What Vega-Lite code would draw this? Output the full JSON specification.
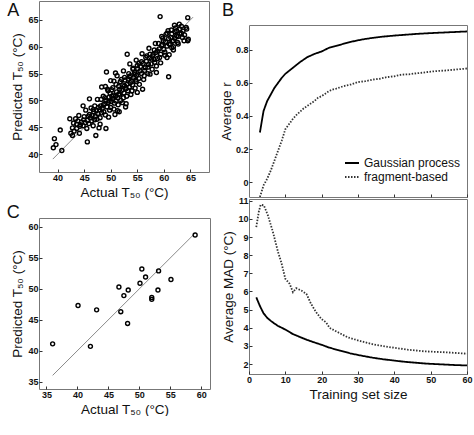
{
  "$schema": "https://vega.github.io/schema/vega-lite/v6.json",
  "padding": {"left": 6, "top": 0, "right": 0, "bottom": 0},
  "background": "white",
  "config": {
    "font": "Liberation Sans",
    "view": {"stroke": "#777", "strokeWidth": 1},
    "axis": {"grid": false, "domain": false, "tickSize": -3, "tickColor": "#333", "labelPadding": 4, "labelFontSize": 9, "labelFontWeight": "bold", "labelColor": "#111", "labelOverlap": false, "labelBound": false, "labelFlush": false, "titleFontSize": 13.5, "titleFontWeight": "normal", "titleColor": "#111", "titlePadding": 3}
  },
  "datasets": {
    "mcurves": [
      {"n": 2, "v": 5.68, "method": "Gaussian process"}, {"n": 3, "v": 5.2, "method": "Gaussian process"}, {"n": 4, "v": 4.8, "method": "Gaussian process"}, {"n": 5, "v": 4.55, "method": "Gaussian process"}, {"n": 6, "v": 4.38, "method": "Gaussian process"}, {"n": 7, "v": 4.23, "method": "Gaussian process"}, {"n": 8, "v": 4.1, "method": "Gaussian process"}, {"n": 9, "v": 4.0, "method": "Gaussian process"}, {"n": 10, "v": 3.9, "method": "Gaussian process"}, {"n": 12, "v": 3.66, "method": "Gaussian process"}, {"n": 14, "v": 3.49, "method": "Gaussian process"}, {"n": 16, "v": 3.33, "method": "Gaussian process"}, {"n": 18, "v": 3.19, "method": "Gaussian process"}, {"n": 20, "v": 3.06, "method": "Gaussian process"}, {"n": 22, "v": 2.91, "method": "Gaussian process"}, {"n": 25, "v": 2.74, "method": "Gaussian process"}, {"n": 28, "v": 2.58, "method": "Gaussian process"}, {"n": 31, "v": 2.46, "method": "Gaussian process"}, {"n": 34, "v": 2.35, "method": "Gaussian process"}, {"n": 37, "v": 2.26, "method": "Gaussian process"}, {"n": 40, "v": 2.19, "method": "Gaussian process"}, {"n": 43, "v": 2.12, "method": "Gaussian process"}, {"n": 46, "v": 2.07, "method": "Gaussian process"}, {"n": 49, "v": 2.02, "method": "Gaussian process"}, {"n": 52, "v": 1.99, "method": "Gaussian process"}, {"n": 56, "v": 1.95, "method": "Gaussian process"}, {"n": 60, "v": 1.92, "method": "Gaussian process"},
      {"n": 2, "v": 9.55, "method": "fragment-based"}, {"n": 2.7, "v": 10.4, "method": "fragment-based"}, {"n": 3.2, "v": 10.78, "method": "fragment-based"}, {"n": 4.1, "v": 10.75, "method": "fragment-based"}, {"n": 5.2, "v": 10.2, "method": "fragment-based"}, {"n": 6.6, "v": 9.27, "method": "fragment-based"}, {"n": 8, "v": 8.17, "method": "fragment-based"}, {"n": 8.9, "v": 7.6, "method": "fragment-based"}, {"n": 10, "v": 6.7, "method": "fragment-based"}, {"n": 11.2, "v": 6.42, "method": "fragment-based"}, {"n": 12.1, "v": 5.96, "method": "fragment-based"}, {"n": 13, "v": 6.18, "method": "fragment-based"}, {"n": 14.4, "v": 6.05, "method": "fragment-based"}, {"n": 15.8, "v": 5.87, "method": "fragment-based"}, {"n": 17.1, "v": 5.31, "method": "fragment-based"}, {"n": 18.5, "v": 4.85, "method": "fragment-based"}, {"n": 19.9, "v": 4.49, "method": "fragment-based"}, {"n": 21.2, "v": 4.3, "method": "fragment-based"}, {"n": 22.2, "v": 3.99, "method": "fragment-based"}, {"n": 24.5, "v": 3.75, "method": "fragment-based"}, {"n": 27.2, "v": 3.47, "method": "fragment-based"}, {"n": 30.9, "v": 3.25, "method": "fragment-based"}, {"n": 34.5, "v": 3.07, "method": "fragment-based"}, {"n": 39.1, "v": 2.92, "method": "fragment-based"}, {"n": 43.7, "v": 2.79, "method": "fragment-based"}, {"n": 48.3, "v": 2.7, "method": "fragment-based"}, {"n": 54.7, "v": 2.64, "method": "fragment-based"}, {"n": 60, "v": 2.57, "method": "fragment-based"}
    ],
    "rcurves": [
      {"n": 3, "v": 0.30, "method": "Gaussian process"}, {"n": 4, "v": 0.43, "method": "Gaussian process"}, {"n": 5, "v": 0.49, "method": "Gaussian process"}, {"n": 6, "v": 0.53, "method": "Gaussian process"}, {"n": 7, "v": 0.57, "method": "Gaussian process"}, {"n": 8, "v": 0.60, "method": "Gaussian process"}, {"n": 9, "v": 0.63, "method": "Gaussian process"}, {"n": 10, "v": 0.655, "method": "Gaussian process"}, {"n": 12, "v": 0.69, "method": "Gaussian process"}, {"n": 14, "v": 0.725, "method": "Gaussian process"}, {"n": 16, "v": 0.755, "method": "Gaussian process"}, {"n": 18, "v": 0.775, "method": "Gaussian process"}, {"n": 20, "v": 0.79, "method": "Gaussian process"}, {"n": 22, "v": 0.812, "method": "Gaussian process"}, {"n": 25, "v": 0.83, "method": "Gaussian process"}, {"n": 28, "v": 0.848, "method": "Gaussian process"}, {"n": 31, "v": 0.862, "method": "Gaussian process"}, {"n": 34, "v": 0.872, "method": "Gaussian process"}, {"n": 37, "v": 0.88, "method": "Gaussian process"}, {"n": 40, "v": 0.886, "method": "Gaussian process"}, {"n": 43, "v": 0.891, "method": "Gaussian process"}, {"n": 46, "v": 0.896, "method": "Gaussian process"}, {"n": 50, "v": 0.901, "method": "Gaussian process"}, {"n": 54, "v": 0.905, "method": "Gaussian process"}, {"n": 57, "v": 0.908, "method": "Gaussian process"}, {"n": 60, "v": 0.911, "method": "Gaussian process"},
      {"n": 3, "v": -0.09, "method": "fragment-based"}, {"n": 4, "v": -0.02, "method": "fragment-based"}, {"n": 5, "v": 0.02, "method": "fragment-based"}, {"n": 6, "v": 0.07, "method": "fragment-based"}, {"n": 7, "v": 0.13, "method": "fragment-based"}, {"n": 8, "v": 0.19, "method": "fragment-based"}, {"n": 9, "v": 0.25, "method": "fragment-based"}, {"n": 10, "v": 0.32, "method": "fragment-based"}, {"n": 11, "v": 0.35, "method": "fragment-based"}, {"n": 12, "v": 0.38, "method": "fragment-based"}, {"n": 13, "v": 0.405, "method": "fragment-based"}, {"n": 14, "v": 0.425, "method": "fragment-based"}, {"n": 15, "v": 0.445, "method": "fragment-based"}, {"n": 16, "v": 0.46, "method": "fragment-based"}, {"n": 17, "v": 0.475, "method": "fragment-based"}, {"n": 18, "v": 0.49, "method": "fragment-based"}, {"n": 19, "v": 0.51, "method": "fragment-based"}, {"n": 20, "v": 0.52, "method": "fragment-based"}, {"n": 21, "v": 0.535, "method": "fragment-based"}, {"n": 22, "v": 0.55, "method": "fragment-based"}, {"n": 23, "v": 0.56, "method": "fragment-based"}, {"n": 24, "v": 0.565, "method": "fragment-based"}, {"n": 26, "v": 0.58, "method": "fragment-based"}, {"n": 28, "v": 0.59, "method": "fragment-based"}, {"n": 30, "v": 0.605, "method": "fragment-based"}, {"n": 32, "v": 0.61, "method": "fragment-based"}, {"n": 34, "v": 0.62, "method": "fragment-based"}, {"n": 36, "v": 0.625, "method": "fragment-based"}, {"n": 38, "v": 0.635, "method": "fragment-based"}, {"n": 40, "v": 0.64, "method": "fragment-based"}, {"n": 42, "v": 0.65, "method": "fragment-based"}, {"n": 44, "v": 0.652, "method": "fragment-based"}, {"n": 46, "v": 0.658, "method": "fragment-based"}, {"n": 48, "v": 0.662, "method": "fragment-based"}, {"n": 50, "v": 0.668, "method": "fragment-based"}, {"n": 52, "v": 0.672, "method": "fragment-based"}, {"n": 54, "v": 0.675, "method": "fragment-based"}, {"n": 56, "v": 0.679, "method": "fragment-based"}, {"n": 58, "v": 0.683, "method": "fragment-based"}, {"n": 60, "v": 0.687, "method": "fragment-based"}
    ],
    "scatterA": [
      {"t":39.4,"p":42.9},{"t":39.7,"p":41.8},{"t":39.2,"p":41.2},{"t":40.8,"p":40.7},{"t":40.5,"p":44.5},{"t":42.8,"p":43.5},{"t":42.5,"p":43.9},{"t":43.1,"p":44.3},{"t":42.3,"p":46.6},{"t":43.4,"p":46.6},{"t":44.1,"p":43.9},{"t":43.6,"p":45.6},{"t":44.3,"p":45.5},{"t":44.8,"p":45.3},{"t":45.5,"p":44.8},{"t":45.6,"p":42.3},{"t":46.0,"p":47.4},{"t":44.8,"p":49.0},{"t":45.3,"p":48.2},{"t":46.0,"p":50.3},{"t":46.4,"p":46.2},{"t":46.7,"p":45.3},{"t":47.2,"p":43.5},{"t":47.0,"p":46.4},{"t":47.3,"p":48.1},{"t":47.7,"p":48.7},{"t":46.7,"p":48.3},{"t":48.0,"p":46.8},{"t":48.3,"p":47.7},{"t":48.6,"p":49.2},{"t":48.9,"p":50.5},{"t":49.1,"p":44.8},{"t":49.2,"p":55.3},{"t":49.5,"p":51.8},{"t":49.7,"p":49.9},{"t":50.0,"p":48.7},{"t":50.2,"p":50.8},{"t":50.4,"p":52.4},{"t":50.6,"p":53.6},{"t":50.9,"p":55.1},{"t":51.0,"p":49.9},{"t":51.3,"p":48.1},{"t":51.5,"p":51.2},{"t":51.7,"p":52.1},{"t":52.0,"p":53.9},{"t":52.4,"p":50.5},{"t":52.6,"p":52.7},{"t":52.9,"p":49.4},{"t":53.1,"p":58.6},{"t":53.2,"p":51.8},{"t":53.5,"p":54.4},{"t":53.7,"p":53.3},{"t":54.0,"p":51.8},{"t":54.2,"p":55.8},{"t":54.6,"p":54.9},{"t":54.8,"p":53.5},{"t":55.0,"p":51.5},{"t":55.3,"p":56.9},{"t":55.5,"p":55.5},{"t":56.0,"p":52.1},{"t":56.3,"p":54.6},{"t":56.5,"p":56.1},{"t":56.8,"p":58.3},{"t":57.1,"p":56.7},{"t":57.4,"p":54.9},{"t":57.7,"p":57.7},{"t":58.0,"p":58.6},{"t":58.3,"p":57.1},{"t":58.6,"p":55.2},{"t":58.8,"p":59.2},{"t":59.2,"p":58.0},{"t":59.3,"p":65.6},{"t":59.6,"p":60.2},{"t":59.9,"p":61.1},{"t":60.2,"p":59.0},{"t":60.4,"p":62.3},{"t":60.6,"p":58.0},{"t":60.9,"p":54.4},{"t":61.0,"p":60.5},{"t":61.3,"p":61.7},{"t":61.5,"p":59.8},{"t":61.8,"p":61.1},{"t":62.1,"p":62.8},{"t":62.4,"p":62.0},{"t":62.7,"p":60.5},{"t":63.0,"p":63.3},{"t":63.3,"p":62.5},{"t":63.5,"p":61.7},{"t":63.8,"p":61.1},{"t":64.5,"p":61.1},{"t":64.5,"p":65.4},{"t":64.3,"p":63.3},
      {"t":43.0,"p":45.8},{"t":43.8,"p":46.2},{"t":44.5,"p":46.0},{"t":44.9,"p":46.4},{"t":45.2,"p":45.9},{"t":45.6,"p":46.3},{"t":45.9,"p":45.7},{"t":46.2,"p":46.8},{"t":46.5,"p":47.2},{"t":46.8,"p":47.9},{"t":47.1,"p":47.0},{"t":47.4,"p":46.5},{"t":47.6,"p":47.6},{"t":47.9,"p":48.3},{"t":48.1,"p":49.0},{"t":48.4,"p":48.5},{"t":48.7,"p":47.9},{"t":48.9,"p":49.4},{"t":49.1,"p":50.0},{"t":49.3,"p":48.8},{"t":49.5,"p":49.6},{"t":49.7,"p":50.6},{"t":49.9,"p":51.3},{"t":50.1,"p":49.8},{"t":50.3,"p":50.3},{"t":50.5,"p":51.0},{"t":50.7,"p":49.5},{"t":50.9,"p":50.8},{"t":51.1,"p":51.6},{"t":51.3,"p":50.5},{"t":51.5,"p":52.6},{"t":51.7,"p":51.0},{"t":51.9,"p":50.0},{"t":52.1,"p":51.9},{"t":52.3,"p":52.9},{"t":52.5,"p":51.4},{"t":52.7,"p":53.8},{"t":52.9,"p":52.2},{"t":53.1,"p":53.0},{"t":53.3,"p":54.0},{"t":53.5,"p":52.5},{"t":53.7,"p":54.6},{"t":53.9,"p":53.6},{"t":54.1,"p":52.9},{"t":54.3,"p":54.2},{"t":54.5,"p":55.2},{"t":54.7,"p":53.8},{"t":54.9,"p":54.7},{"t":55.1,"p":55.9},{"t":55.3,"p":54.1},{"t":55.6,"p":56.3},{"t":55.8,"p":55.0},{"t":56.1,"p":56.9},{"t":56.4,"p":55.6},{"t":56.7,"p":57.3},{"t":57.0,"p":56.2},{"t":57.3,"p":57.9},{"t":57.6,"p":56.8},{"t":57.9,"p":58.3},{"t":58.2,"p":57.6},{"t":58.5,"p":58.9},{"t":58.8,"p":57.8},{"t":59.1,"p":59.6},{"t":59.4,"p":58.6},{"t":59.7,"p":60.4},{"t":60.0,"p":59.5},{"t":60.3,"p":60.9},{"t":60.6,"p":60.1},{"t":60.9,"p":61.5},{"t":61.2,"p":60.4},{"t":61.5,"p":62.4},{"t":61.8,"p":60.0},{"t":62.1,"p":61.6},{"t":62.4,"p":63.0},{"t":62.7,"p":61.9},{"t":63.0,"p":62.4},{"t":63.3,"p":63.8},{"t":63.6,"p":62.9},{"t":63.9,"p":62.2},{"t":64.2,"p":63.6},{"t":64.6,"p":61.4},
      {"t":48.2,"p":50.2},{"t":48.6,"p":50.8},{"t":49.0,"p":47.3},{"t":49.4,"p":52.1},{"t":49.8,"p":48.2},{"t":50.2,"p":52.0},{"t":50.6,"p":48.4},{"t":51.0,"p":53.0},{"t":51.4,"p":49.2},{"t":51.8,"p":53.5},{"t":52.2,"p":49.6},{"t":52.6,"p":54.3},{"t":53.0,"p":50.8},{"t":53.4,"p":55.0},{"t":53.8,"p":51.1},{"t":54.2,"p":56.0},{"t":54.6,"p":52.3},{"t":55.0,"p":56.5},{"t":55.4,"p":53.0},{"t":55.8,"p":57.2},{"t":56.2,"p":53.9},{"t":56.6,"p":58.0},{"t":57.0,"p":55.0},{"t":57.4,"p":58.6},{"t":57.8,"p":55.8},{"t":58.2,"p":59.4},{"t":58.6,"p":56.4},{"t":59.0,"p":60.6},{"t":59.4,"p":57.0},{"t":59.8,"p":61.6},{"t":60.2,"p":58.4},{"t":60.6,"p":62.5},{"t":61.0,"p":58.5},{"t":61.4,"p":63.1},{"t":61.8,"p":59.4},{"t":62.2,"p":63.5},{"t":62.6,"p":60.8},
      {"t":47.5,"p":50.2},{"t":47.0,"p":49.0},{"t":46.3,"p":48.6},{"t":45.8,"p":47.1},{"t":45.0,"p":47.0},{"t":44.2,"p":45.2},{"t":43.6,"p":44.8},{"t":42.8,"p":44.9},{"t":44.0,"p":47.2},{"t":48.0,"p":45.6},{"t":47.8,"p":44.9},{"t":49.6,"p":46.9},{"t":50.8,"p":47.4},{"t":51.6,"p":47.9},{"t":52.8,"p":48.8},{"t":50.0,"p":53.7},{"t":49.0,"p":52.6},{"t":48.3,"p":52.5},{"t":51.2,"p":54.6},{"t":52.4,"p":55.5},{"t":53.6,"p":56.8},{"t":54.8,"p":57.5},{"t":55.9,"p":58.7},{"t":57.2,"p":59.7},{"t":58.4,"p":60.6},{"t":59.6,"p":61.9},{"t":60.8,"p":63.0},{"t":62.0,"p":64.0},{"t":62.9,"p":64.2},{"t":61.6,"p":61.0}
    ],
    "scatterC": [
      {"t":36.0,"p":41.1},{"t":40.1,"p":47.3},{"t":43.1,"p":46.6},{"t":42.1,"p":40.7},{"t":46.7,"p":50.3},{"t":47.0,"p":46.3},{"t":47.5,"p":48.9},{"t":48.1,"p":44.4},{"t":48.2,"p":49.8},{"t":50.1,"p":50.9},{"t":50.4,"p":53.2},{"t":51.0,"p":51.9},{"t":52.0,"p":48.6},{"t":52.0,"p":48.3},{"t":53.1,"p":52.9},{"t":53.0,"p":49.8},{"t":55.1,"p":51.5},{"t":59.0,"p":58.7}
    ]
  },
  "hconcat": [
    {
      "vconcat": [
        {
          "width": 170, "height": 171,
          "encoding": {
            "x": {"field": "t", "type": "quantitative", "scale": {"domain": [36.5, 68.5], "nice": false, "zero": false}, "axis": {"values": [40, 45, 50, 55, 60, 65], "title": "Actual T₅₀ (°C)"}},
            "y": {"field": "p", "type": "quantitative", "scale": {"domain": [36.7, 68.5], "nice": false, "zero": false}, "axis": {"values": [40, 45, 50, 55, 60, 65], "title": "Predicted T₅₀ (°C)"}}
          },
          "layer": [
            {
              "data": {"values": [{"t": 39.1, "p": 39.1}, {"t": 65.5, "p": 65.5}]},
              "mark": {"type": "line", "color": "#8a8a8a", "strokeWidth": 1}
            },
            {
              "data": {"name": "scatterA"},
              "mark": {"type": "point", "shape": "circle", "filled": false, "color": "#000", "strokeWidth": 1.4, "size": 16, "opacity": 1}
            },
            {
              "data": {"values": [{"t": 30.5, "p": 65.7, "label": "A"}]},
              "mark": {"type": "text", "align": "left", "baseline": "alphabetic", "fontSize": 18, "color": "#111"},
              "encoding": {"text": {"field": "label"}}
            }
          ]
        },
        {
          "width": 171, "height": 171,
          "encoding": {
            "x": {"field": "t", "type": "quantitative", "scale": {"domain": [33.8, 61.4], "nice": false, "zero": false}, "axis": {"values": [35, 40, 45, 50, 55, 60], "title": "Actual T₅₀ (°C)"}},
            "y": {"field": "p", "type": "quantitative", "scale": {"domain": [33.8, 61.45], "nice": false, "zero": false}, "axis": {"values": [35, 40, 45, 50, 55, 60], "title": "Predicted T₅₀ (°C)"}}
          },
          "layer": [
            {
              "data": {"values": [{"t": 36, "p": 36}, {"t": 59, "p": 59}]},
              "mark": {"type": "line", "color": "#8a8a8a", "strokeWidth": 1}
            },
            {
              "data": {"name": "scatterC"},
              "mark": {"type": "point", "shape": "circle", "filled": false, "color": "#000", "strokeWidth": 1.4, "size": 16, "opacity": 1}
            },
            {
              "data": {"values": [{"t": 28.6, "p": 61.4, "label": "C"}]},
              "mark": {"type": "text", "align": "left", "baseline": "alphabetic", "fontSize": 18, "color": "#111"},
              "encoding": {"text": {"field": "label"}}
            }
          ]
        }
      ],
      "spacing": 46,
      "bounds": "flush"
    },
    {
      "vconcat": [
        {
          "width": 218, "height": 22,
          "view": {"stroke": null},
          "data": {"values": [{}]},
          "mark": {"type": "text"},
          "encoding": {"text": {"value": ""}}
        },
        {
          "width": 218, "height": 172,
          "encoding": {
            "x": {"field": "n", "type": "quantitative", "scale": {"domain": [0, 60], "nice": false}, "axis": {"values": [10, 20, 30, 40, 50, 60], "labels": false, "title": null}},
            "y": {"field": "v", "type": "quantitative", "scale": {"domain": [-0.09, 0.95], "nice": false, "zero": false}, "axis": {"values": [0, 0.2, 0.4, 0.6, 0.8], "labelExpr": "datum.value == 0 ? '0' : format(datum.value, '.1f')", "title": "Average r", "titlePadding": 2}}
          },
          "layer": [
            {
              "data": {"name": "rcurves"},
              "mark": {"type": "line", "strokeWidth": 1.8, "clip": true},
              "encoding": {
                "strokeDash": {"field": "method", "type": "nominal", "scale": {"domain": ["Gaussian process", "fragment-based"], "range": [[1, 0], [1.5, 1.5]]}, "legend": {"title": null, "orient": "none", "legendX": 95, "legendY": 130, "labelFontSize": 12, "symbolType": "stroke", "symbolSize": 196, "symbolStrokeWidth": 2, "rowPadding": -2, "labelOffset": 4, "labelColor": "#111"}},
                "color": {"field": "method", "type": "nominal", "scale": {"domain": ["Gaussian process", "fragment-based"], "range": ["#000000", "#333333"]}, "legend": {"title": null, "orient": "none", "legendX": 95, "legendY": 130, "labelFontSize": 12, "symbolType": "stroke", "symbolSize": 196, "symbolStrokeWidth": 2, "rowPadding": -2, "labelOffset": 4, "labelColor": "#111"}}
              }
            },
            {
              "data": {"values": [{"n": -7.4, "v": 1.005, "label": "B"}]},
              "mark": {"type": "text", "align": "left", "baseline": "alphabetic", "fontSize": 18, "color": "#111"},
              "encoding": {"text": {"field": "label"}}
            }
          ]
        },
        {
          "width": 218, "height": 175,
          "data": {"name": "mcurves"},
          "mark": {"type": "line", "strokeWidth": 1.8, "clip": true},
          "encoding": {
            "x": {"field": "n", "type": "quantitative", "scale": {"domain": [0, 60], "nice": false}, "axis": {"values": [0, 10, 20, 30, 40, 50, 60], "title": "Training set size"}},
            "y": {"field": "v", "type": "quantitative", "scale": {"domain": [1.45, 11.1], "nice": false, "zero": false}, "axis": {"values": [2, 3, 4, 5, 6, 7, 8, 9, 10, 11], "title": "Average MAD (°C)", "titlePadding": 2}},
            "strokeDash": {"field": "method", "type": "nominal", "scale": {"domain": ["Gaussian process", "fragment-based"], "range": [[1, 0], [1.5, 1.5]]}, "legend": null},
            "color": {"field": "method", "type": "nominal", "scale": {"domain": ["Gaussian process", "fragment-based"], "range": ["#000000", "#333333"]}, "legend": null}
          }
        }
      ],
      "spacing": 2,
      "bounds": "flush",
      "resolve": {"scale": {"color": "independent", "strokeDash": "independent"}, "legend": {"color": "independent", "strokeDash": "independent"}}
    }
  ],
  "spacing": 7,
  "resolve": {"scale": {"color": "independent", "strokeDash": "independent"}, "legend": {"color": "independent", "strokeDash": "independent"}}
}
